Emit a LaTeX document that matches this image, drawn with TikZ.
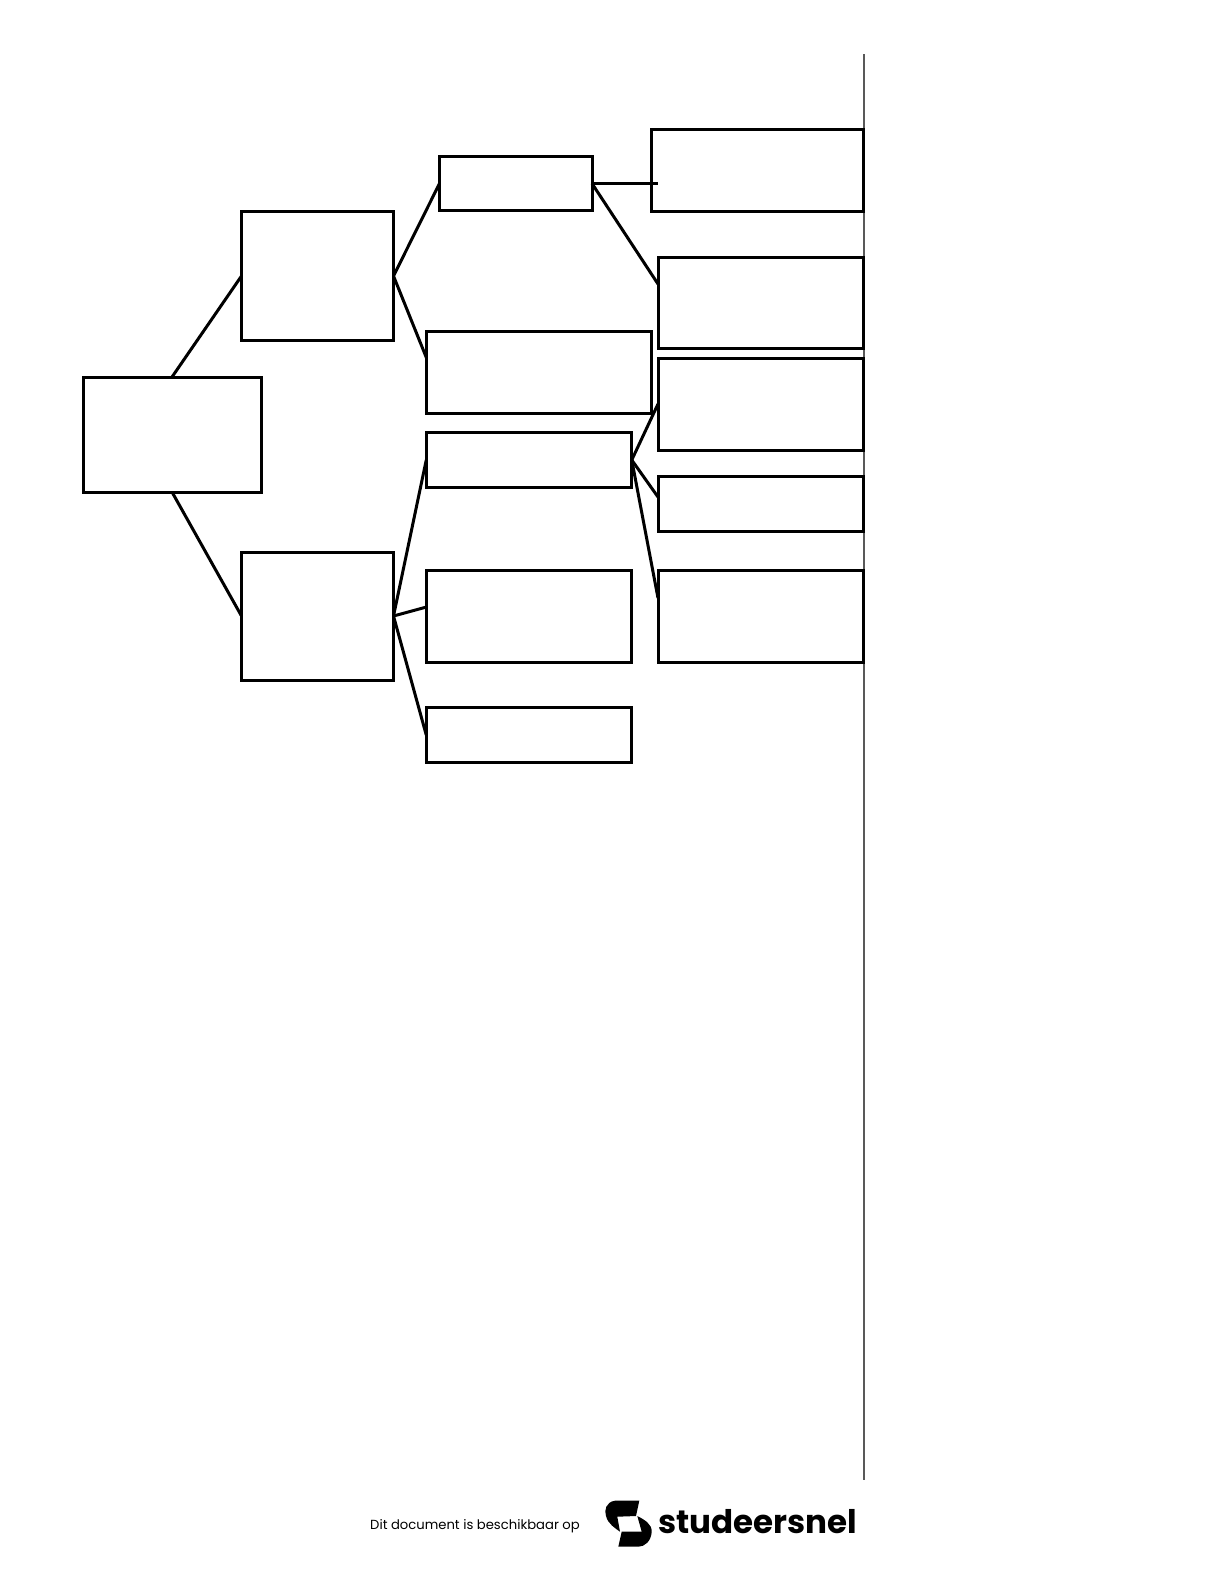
\documentclass[tikz,border=0pt]{standalone}
\usepackage{fontspec}
\setmainfont{Poppins}
\tikzset{
  box/.style={draw,line width=3pt,inner sep=0pt,outer sep=0pt,line join=miter},
  link/.style={line width=3pt}
}
\begin{document}
\begin{tikzpicture}[x=1pt,y=-1pt]
\useasboundingbox (0,0) rectangle (1225,1585);
\coordinate (ruleTop) at (864,54);
\coordinate (ruleEnd) at (864,1480);
\draw[line width=1.5pt,black!65] (ruleTop) -- (ruleEnd);
\node[box,minimum width=178pt,minimum height=115pt] (root) at (172,434.5) {};
\node[box,minimum width=152pt,minimum height=128.5pt] (upper) at (317.5,276) {};
\node[box,minimum width=152pt,minimum height=128pt] (lower) at (317.5,616) {};
\node[box,minimum width=152.5pt,minimum height=54.5pt] (midA) at (515.75,183.5) {};
\node[box,minimum width=225.5pt,minimum height=82pt] (midB) at (539,372.5) {};
\node[box,minimum width=205.5pt,minimum height=54.5pt] (midC) at (529,460) {};
\node[box,minimum width=205.5pt,minimum height=92pt] (midD) at (529,616) {};
\node[box,minimum width=205.5pt,minimum height=54.5pt] (midE) at (529,735) {};
\node[box,minimum width=212pt,minimum height=82pt] (leafA) at (757,170) {};
\node[box,minimum width=205pt,minimum height=91.5pt] (leafB) at (760.5,303) {};
\node[box,minimum width=205pt,minimum height=92pt] (leafC) at (760.5,404) {};
\node[box,minimum width=205pt,minimum height=55pt] (leafD) at (760.5,503.5) {};
\node[box,minimum width=205pt,minimum height=92pt] (leafE) at (760.5,616) {};
\coordinate (pinB) at (426.5,358);
\coordinate (pinD) at (426.5,607);
\coordinate (pinLeafA) at (658,183.5);
\coordinate (pinLeafB) at (658,284);
\coordinate (pinLeafD) at (658,497);
\coordinate (pinLeafE) at (658,598);
\draw[link] (root.north) -- (upper.west);
\draw[link] (root.south) -- (lower.west);
\draw[link] (upper.east) -- (midA.west);
\draw[link] (upper.east) -- (pinB);
\draw[link] (lower.east) -- (midC.west);
\draw[link] (lower.east) -- (pinD);
\draw[link] (lower.east) -- (midE.west);
\draw[line width=2.5pt] (midA.east) -- (pinLeafA);
\draw[link] (midA.east) -- (pinLeafB);
\draw[link] (midC.east) -- (leafC.west);
\draw[link] (midC.east) -- (pinLeafD);
\draw[link] (midC.east) -- (pinLeafE);
\node[anchor=base west,inner sep=0pt,font=\fontsize{13.17}{16}\selectfont] (footer) at (370,1529) {Dit document is beschikbaar op};
\fill (639.3,1500.7) -- (615,1500.7) .. controls (606,1502) and (604,1510) .. (606,1516) .. controls (608,1524) and (615,1528) .. (620,1531.7) -- (617.3,1516.7) -- (636,1516) -- cycle;
\fill (637.3,1516) .. controls (645,1520) and (652,1524) .. (651.7,1532) .. controls (651,1541) and (645,1546.7) .. (638.3,1546.7) -- (618.3,1546.7) -- (621.7,1531.7) -- (641.7,1531.7) -- cycle;
\node[anchor=base west,inner sep=0pt,font=\fontsize{32.5}{36}\selectfont\bfseries] (brand) at (658,1533) {studeersnel};
\end{tikzpicture}
\end{document}
